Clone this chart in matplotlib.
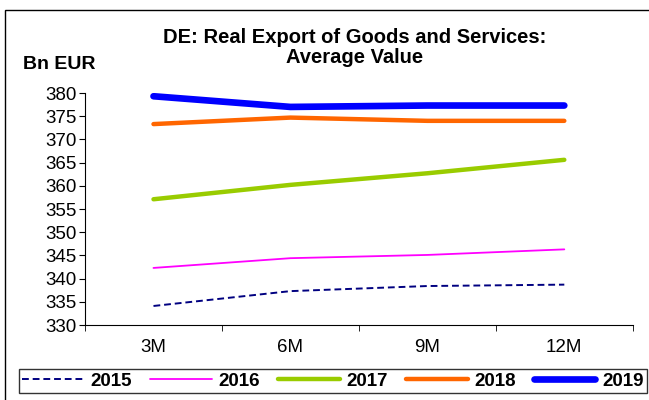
import matplotlib.pyplot as plt
from matplotlib.patches import Rectangle

plt.rcParams['font.family'] = ['Liberation Sans', 'DejaVu Sans']

periods = ["3M", "6M", "9M", "12M"]
years = ["2015", "2016", "2017", "2018", "2019"]
values = {
    "2015": [334.1, 337.3, 338.4, 338.7],
    "2016": [342.3, 344.4, 345.1, 346.3],
    "2017": [357.1, 360.2, 362.7, 365.6],
    "2018": [373.3, 374.7, 374.0, 374.0],
    "2019": [379.3, 377.0, 377.3, 377.3],
}
colors = {"2015": "#000080", "2016": "#FF00FF", "2017": "#99CC00",
          "2018": "#FF6600", "2019": "#0000FF"}
widths = {"2015": 1.4, "2016": 1.3, "2017": 3.2, "2018": 3.2, "2019": 4.8}
styles = {"2015": (0, (3.5, 2)), "2016": "-", "2017": "-", "2018": "-", "2019": "-"}

fig = plt.figure(figsize=(6.49, 4.0), dpi=100)
ax = fig.add_axes([0.131, 0.1875, 0.844, 0.58])

x = range(len(periods))
for yr in years:
    ax.plot(x, values[yr], color=colors[yr], lw=widths[yr], ls=styles[yr],
            label=yr, solid_capstyle="round")

ax.set_xlim(-0.5, len(periods) - 0.5)
ax.set_ylim(330, 380)
ax.set_yticks(range(330, 381, 5))
ax.set_xticks(list(x))
ax.set_xticklabels(periods)
ax.set_xticks([i - 0.5 for i in range(len(periods) + 1)], minor=True)
ax.tick_params(axis="x", which="major", length=0, pad=10, labelsize=13.5)
ax.tick_params(axis="x", which="minor", length=4, direction="out")
ax.tick_params(axis="y", length=4, direction="out", labelsize=13.5, pad=2)
for s in ["top", "right"]:
    ax.spines[s].set_visible(False)
ax.spines["left"].set_linewidth(0.8)
ax.spines["bottom"].set_linewidth(0.8)

fig.text(0.547, 0.881, "DE: Real Export of Goods and Services:\nAverage Value",
         ha="center", va="center", fontsize=14.5, fontweight="bold", linespacing=1.1)
fig.text(0.035, 0.838, "Bn EUR", ha="left", va="center", fontsize=14, fontweight="bold")

leg = fig.legend(loc="center", bbox_to_anchor=(0.513, 0.0475), ncol=5,
                 frameon=True, fancybox=False, edgecolor="black",
                 prop={"weight": "bold", "size": 13.5}, handlelength=3.3,
                 handletextpad=0.35, columnspacing=0.95, borderpad=0.2,
                 borderaxespad=0)
leg.get_frame().set_linewidth(1.0)

fig.patches.append(Rectangle((0.008, -0.1), 1.1, 1.075, transform=fig.transFigure,
                             fill=False, edgecolor="black", lw=1.0))

fig.savefig("out.png", dpi=100)
